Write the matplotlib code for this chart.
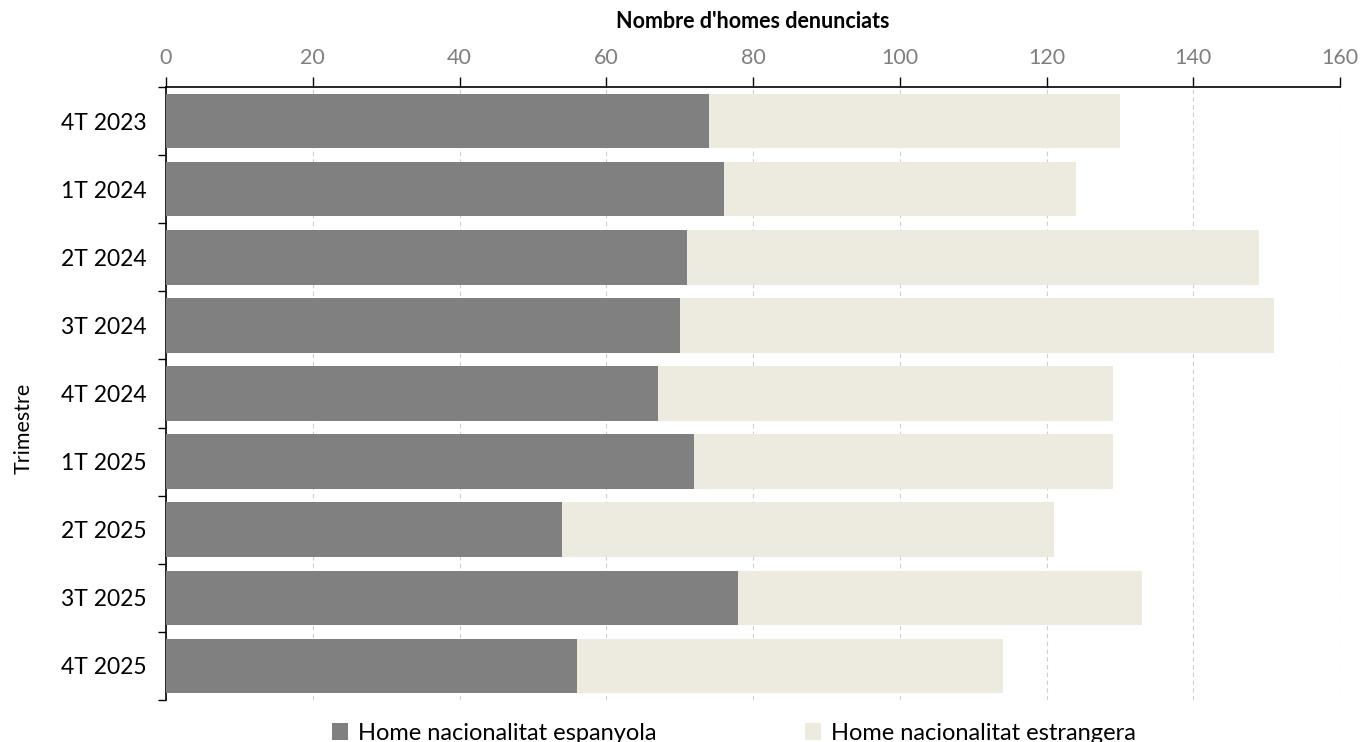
import matplotlib
matplotlib.use("Agg")
import matplotlib.pyplot as plt
import numpy as np

categories = ["4T 2023", "1T 2024", "2T 2024", "3T 2024", "4T 2024",
              "1T 2025", "2T 2025", "3T 2025", "4T 2025"]
espanyola = [74, 76, 71, 70, 67, 72, 54, 78, 56]
estrangera_total = [130, 124, 149, 151, 129, 129, 121, 133, 114]
estrangera = [t - e for t, e in zip(estrangera_total, espanyola)]
xticks = [0, 20, 40, 60, 80, 100, 120, 140, 160]

plt.rcParams['font.family'] = ['Lato', 'DejaVu Sans']

fig = plt.figure(figsize=(13.61, 7.42), dpi=100)
ax = fig.add_axes([0.122, 0.0566, 0.8627, 0.8261])

y = np.arange(len(categories))
c_dark = "#808080"
c_light = "#EDEAE0"
ax.barh(y, espanyola, height=0.8, color=c_dark, label="Home nacionalitat espanyola", zorder=3)
ax.barh(y, estrangera, left=espanyola, height=0.8, color=c_light,
        label="Home nacionalitat estrangera", zorder=3)

ax.set_xlim(0, 160)
ax.set_ylim(len(categories) - 0.5, -0.5)
ax.xaxis.tick_top()
ax.xaxis.set_label_position("top")
ax.set_xticks(xticks)
ax.set_xticklabels([str(v) for v in xticks])
ax.tick_params(axis='x', colors='black', labelcolor='#7f7f7f', labelsize=15.5,
               direction='out', length=7, width=1, pad=7)
ax.set_xlabel("Nombre d'homes denunciats", fontsize=15.5, fontweight='bold', labelpad=14)

ax.set_yticks(y)
ax.set_yticklabels(categories, fontsize=16.5)
ax.tick_params(axis='y', length=0, pad=14)
ax.set_yticks(np.arange(len(categories) + 1) - 0.5, minor=True)
ax.tick_params(axis='y', which='minor', length=6, width=1, direction='out', color='black')
fig.text(0.017, 1 - 428 / 742, "Trimestre", rotation=90, fontsize=15.5,
         ha='center', va='center')

for s in ["right", "bottom"]:
    ax.spines[s].set_visible(False)
for s in ["top", "left"]:
    ax.spines[s].set_color("black")
    ax.spines[s].set_linewidth(1.2)

ax.grid(axis='x', linestyle=(0, (4, 3)), color='#cfcfcf', linewidth=0.8, zorder=0)
ax.set_axisbelow(True)

leg = fig.legend(loc='center', bbox_to_anchor=(0.539, 0.012), ncol=2, frameon=False,
                 fontsize=17, handlelength=0.7, handleheight=0.7, handletextpad=0.4,
                 columnspacing=6.3)

fig.savefig("out.png", dpi=100)
